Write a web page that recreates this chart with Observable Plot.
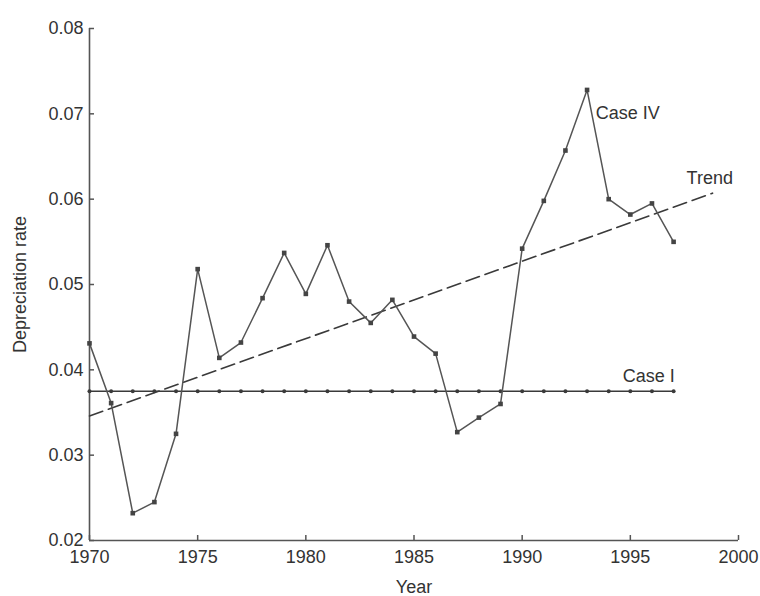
<!DOCTYPE html>
<html>
<head>
<meta charset="utf-8">
<script src="https://cdn.jsdelivr.net/npm/d3@7"></script>
<script src="https://cdn.jsdelivr.net/npm/@observablehq/plot@0.6"></script>
<style>
  html, body { margin: 0; padding: 0; background: #fff; }
  #chart svg { display: block; overflow: visible; }
</style>
</head>
<body>
<div id="chart"></div>
<script>
const years = d3.range(1970, 1998);
const caseIV = [0.0431, 0.0361, 0.0232, 0.0245, 0.0325, 0.0518, 0.0414, 0.0432,
  0.0484, 0.0537, 0.0489, 0.0546, 0.0480, 0.0455, 0.0482, 0.0439, 0.0419, 0.0327,
  0.0344, 0.0360, 0.0542, 0.0598, 0.0657, 0.0728, 0.0600, 0.0582, 0.0595, 0.0550];
const caseILevel = 0.0375;
const caseI = years.map(() => caseILevel);
const trendYears = [1970, 1998.8];
const trendValues = [0.0346, 0.0607];
const xTicks = [1970, 1975, 1980, 1985, 1990, 1995, 2000];
const yTicks = [0.02, 0.03, 0.04, 0.05, 0.06, 0.07, 0.08];
const labelTexts = ["Case IV", "Trend", "Case I"];
const labelYears = [1993.4, 1997.6, 1994.65];
const labelValues = [0.0701, 0.0625, 0.0393];

const seriesIV = years.map((y, i) => ({year: y, value: caseIV[i]}));
const seriesI = years.map((y, i) => ({year: y, value: caseI[i]}));
const trend = trendYears.map((y, i) => ({year: y, value: trendValues[i]}));
const labels = labelTexts.map((t, i) => ({text: t, year: labelYears[i], value: labelValues[i]}));

const ink = "#3a3a3a";
const chart = Plot.plot({
  width: 760,
  height: 596,
  marginLeft: 89,
  marginRight: 22,
  marginTop: 28,
  marginBottom: 56,
  style: {fontFamily: "'Liberation Sans', Arial, sans-serif", fontSize: "18px", color: "#333", background: "#fff"},
  x: {domain: [1970, 2000]},
  y: {domain: [0.02, 0.08]},
  marks: [
    Plot.ruleX([1970], {stroke: "#555", strokeWidth: 1.6}),
    Plot.ruleY([0.02], {stroke: "#555", strokeWidth: 1.6}),
    Plot.axisY({ticks: yTicks, tickSize: 5, dx: 5, text: null, stroke: "#555", strokeWidth: 1.5, label: null}),
    Plot.axisX({ticks: xTicks, tickSize: 5, dy: -5, text: null, stroke: "#555", strokeWidth: 1.5, label: null}),
    Plot.axisY({ticks: yTicks, tickSize: 0, tickPadding: 6, tickFormat: d3.format(".2f"), label: null, fill: "#333"}),
    Plot.axisX({ticks: xTicks, tickSize: 0, tickPadding: 10, tickFormat: d => String(d), label: null, fill: "#333"}),
    Plot.line(trend, {x: "year", y: "value", stroke: ink, strokeWidth: 1.6, strokeDasharray: "14,6"}),
    Plot.line(seriesI, {x: "year", y: "value", stroke: ink, strokeWidth: 1.5}),
    Plot.dot(seriesI, {x: "year", y: "value", r: 2, fill: ink, stroke: "none"}),
    Plot.line(seriesIV, {x: "year", y: "value", stroke: "#555", strokeWidth: 1.5}),
    Plot.dot(seriesIV, {x: "year", y: "value", symbol: "square", r: 2.6, fill: "#444", stroke: "none"}),
    Plot.text(labels, {x: "year", y: "value", text: "text", textAnchor: "start", fill: "#333", fontSize: 18}),
    Plot.text(["Year"], {frameAnchor: "bottom", textAnchor: "middle", lineAnchor: "middle", dy: 47, fill: "#333", fontSize: 18}),
    Plot.text(["Depreciation rate"], {frameAnchor: "left", textAnchor: "middle", lineAnchor: "middle", dx: -69, rotate: -90, fill: "#333", fontSize: 18})
  ]
});
document.getElementById("chart").appendChild(chart);
</script>
</body>
</html>
